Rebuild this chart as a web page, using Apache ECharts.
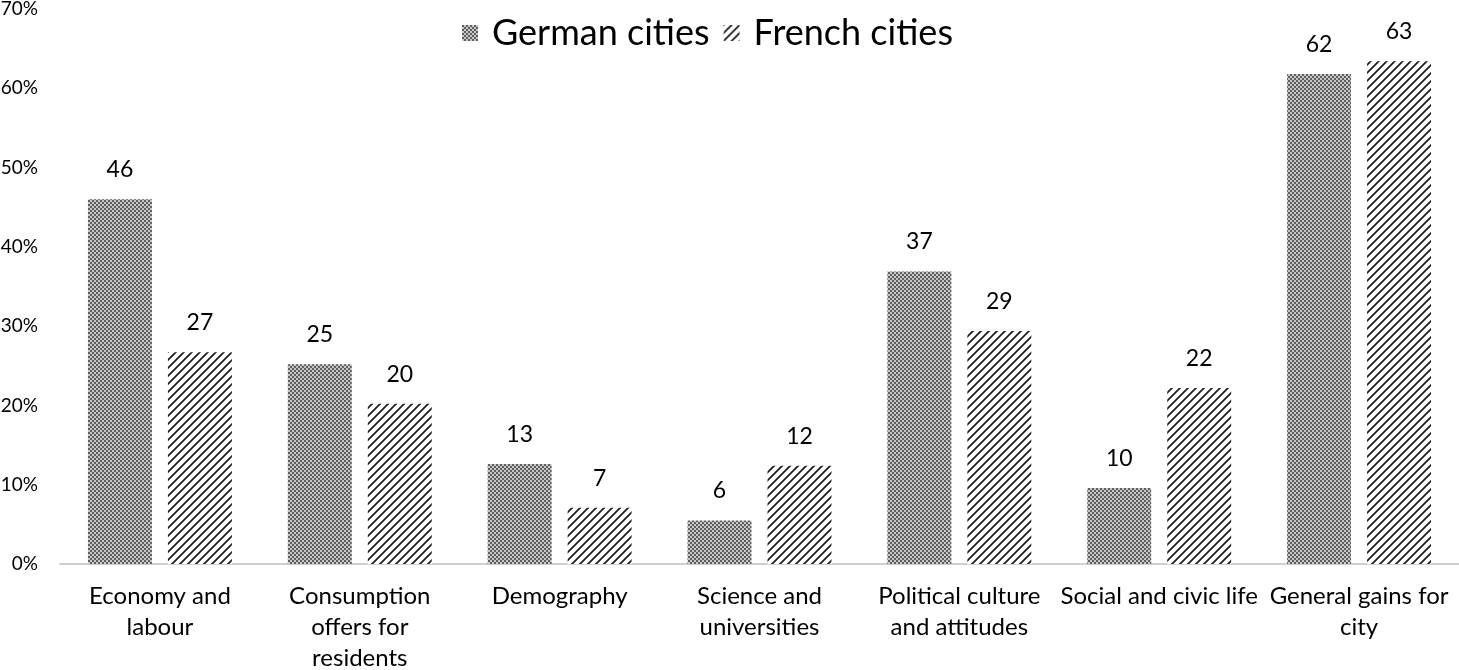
<!DOCTYPE html>
<html>
<head>
<meta charset="utf-8">
<script src="https://cdn.jsdelivr.net/npm/echarts@6/dist/echarts.min.js"></script>
<style>
html,body{margin:0;padding:0;background:#fff;}
#c{width:1459px;height:670px;}
</style>
</head>
<body>
<div id="c"></div>
<script>
const categories = ['Economy and\nlabour', 'Consumption\noffers for\nresidents', 'Demography', 'Science and\nuniversities', 'Political culture\nand attitudes', 'Social and civic life', 'General gains for\ncity'];
const germanCities = [46.0, 25.2, 12.6, 5.5, 36.9, 9.6, 61.8];
const frenchCities = [26.7, 20.2, 7.1, 12.4, 29.4, 22.2, 63.4];
const yTicks = ['0%', '10%', '20%', '30%', '40%', '50%', '60%', '70%'];

function checker() {
  const c = document.createElement('canvas');
  c.width = 4; c.height = 4;
  const g = c.getContext('2d');
  g.fillStyle = '#c8c8c8'; g.fillRect(0, 0, 4, 4);
  g.fillStyle = '#5e5e5e';
  g.fillRect(0, 0, 2, 2); g.fillRect(2, 2, 2, 2);
  return c;
}
function hatch() {
  const s = 8;
  const c = document.createElement('canvas');
  c.width = s; c.height = s;
  const g = c.getContext('2d');
  g.fillStyle = '#ffffff'; g.fillRect(0, 0, s, s);
  g.strokeStyle = '#1a1a1a'; g.lineWidth = 1.7;
  g.beginPath();
  g.moveTo(-1, s + 1); g.lineTo(s + 1, -1);
  g.moveTo(-1 - s, s + 1); g.lineTo(1, -1);
  g.moveTo(s - 1, s + 1); g.lineTo(2 * s + 1, -1);
  g.stroke();
  return c;
}
const pGerman = { image: checker(), repeat: 'repeat' };
const pFrench = { image: hatch(), repeat: 'repeat' };

const chart = echarts.init(document.getElementById('c'));
const font = 'Lato, "Open Sans", sans-serif';
const labelCfg = {
  show: true, position: 'top', distance: 18,
  color: '#000', fontSize: 23, fontFamily: font,
  formatter: p => Math.round(p.value)
};
chart.setOption({
  animation: false,
  textStyle: { fontFamily: font },
  legend: {
    top: 10, left: 457,
    itemWidth: 16, itemHeight: 16, itemGap: 14,
    textStyle: { fontSize: 36, color: '#000', fontFamily: font, padding: [0, 0, 0, 9] },
    data: [
      { name: 'German cities', icon: 'rect' },
      { name: 'French cities', icon: 'rect' }
    ]
  },
  grid: { left: 60, right: 0, top: 9, bottom: 106, outerBoundsMode: 'none', containLabel: false },
  xAxis: {
    type: 'category', data: categories,
    axisLine: { lineStyle: { color: '#d0d0d0', width: 2 } },
    axisTick: { show: false },
    axisLabel: { color: '#000', fontSize: 24, fontFamily: font, lineHeight: 31, margin: 17, interval: 0 }
  },
  yAxis: {
    type: 'value', min: 0, max: 70, interval: 10,
    axisLine: { show: false }, axisTick: { show: false },
    splitLine: { show: false },
    axisLabel: { color: '#000', fontSize: 19, fontFamily: font, margin: 22,
      formatter: v => yTicks[Math.round(v / 10)] }
  },
  series: [
    { name: 'German cities', type: 'bar', data: germanCities, barGap: '25%', barCategoryGap: '28%',
      itemStyle: { color: pGerman }, label: labelCfg },
    { name: 'French cities', type: 'bar', data: frenchCities,
      itemStyle: { color: pFrench }, label: labelCfg }
  ]
});
</script>
</body>
</html>
